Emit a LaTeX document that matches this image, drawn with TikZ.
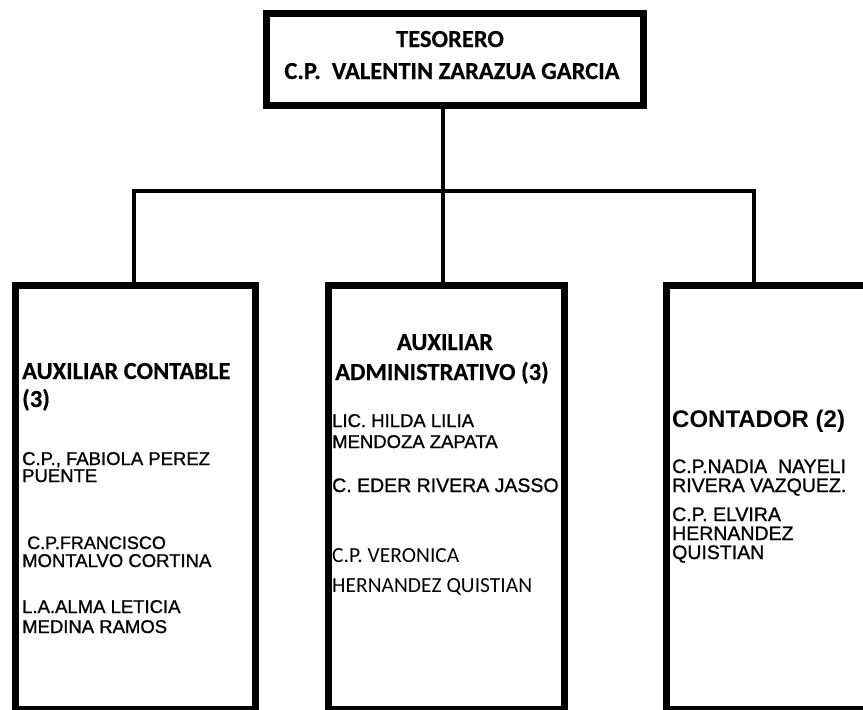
\documentclass[tikz,border=0pt]{standalone}
\usepackage{fontspec}
\setmainfont{Liberation Sans}
\newfontfamily\calib[BoldFeatures={FakeBold=0.4}]{Carlito}
\newfontfamily\arialfb[FakeBold=1]{Liberation Sans}
\begin{document}
\begin{tikzpicture}[x=1pt,y=-1pt,
  box/.style={draw=black,line width=7pt,rectangle,inner sep=0pt,anchor=north west},
  conn/.style={draw=black,line width=4.5pt},
  hdr/.style={inner sep=0pt,font=\calib\bfseries\fontsize{24.5}{28}\selectfont},
  nm/.style={inner sep=0pt,anchor=base west,font=\arialfb\fontsize{18.5}{22}\selectfont},
  nmb/.style={nm,font=\arialfb\fontsize{19.5}{23}\selectfont},
  nmc/.style={inner sep=0pt,anchor=base west,font=\calib\fontsize{21.5}{26}\selectfont},
  cnt/.style={inner sep=0pt,anchor=base west,font=\bfseries\fontsize{24}{28}\selectfont}]
\useasboundingbox (0,0) rectangle (863,710);
\clip (0,0) rectangle (863,710);
\fill[white] (0,0) rectangle (863,710);
% boxes
\node[box,minimum width=377pt,minimum height=92pt] (top) at (263,10) {};
\node[box,minimum width=240pt,minimum height=424pt] (lb) at (12,282) {};
\node[box,minimum width=236pt,minimum height=424pt] (mb) at (325,282) {};
\node[box,minimum width=260pt,minimum height=424pt] (rb) at (663,282) {};
% connectors
\coordinate (j) at (443,191);
\coordinate (bl) at (134,191);
\coordinate (br) at (754,191);
\draw[conn] (top.south -| j) -- (mb.north -| j);
\draw[conn] (lb.north -| bl) -- (bl) -- (br) -- (rb.north -| br);
% top text
\node[hdr,anchor=base] (t1) at (450,47) {TESORERO};
\node[hdr,anchor=base] (t2) at (452,79) {C.P.\ \ VALENTIN ZARAZUA GARCIA};
% left box
\node[hdr,anchor=base west] (l1) at (22,379) {AUXILIAR CONTABLE};
\node[hdr,anchor=base west] (l2) at (22,407) {(3)};
\node[nm] (l3) at (22,465) {C.P., FABIOLA PEREZ};
\node[nm] (l4) at (22,482) {PUENTE};
\node[nm,font=\arialfb\fontsize{18}{22}\selectfont] (l5) at (27,549) {C.P.FRANCISCO};
\node[nm] (l6) at (22,567) {MONTALVO CORTINA};
\node[nm] (l7) at (22,613) {L.A.ALMA LETICIA};
\node[nm] (l8) at (22,633) {MEDINA RAMOS};
% middle box
\node[hdr,anchor=base] (m1) at (445,350) {AUXILIAR};
\node[hdr,anchor=base west] (m2) at (335,380) {ADMINISTRATIVO (3)};
\node[nm] (m3) at (332,427) {LIC. HILDA LILIA};
\node[nm] (m4) at (332,448) {MENDOZA ZAPATA};
\node[nm,font=\arialfb\fontsize{19.5}{24}\selectfont] (m5) at (332,492) {C. EDER RIVERA JASSO};
\node[nmc] (m6) at (332,562) {C.P. VERONICA};
\node[nmc] (m7) at (332,592) {HERNANDEZ QUISTIAN};
% right box
\node[cnt] (r1) at (672,427) {CONTADOR (2)};
\node[nmb] (r2) at (672,473) {C.P.NADIA\ \ NAYELI};
\node[nmb] (r3) at (672,492) {RIVERA VAZQUEZ.};
\node[nmb] (r4) at (672,521) {C.P. ELVIRA};
\node[nmb] (r5) at (672,540) {HERNANDEZ};
\node[nmb] (r6) at (672,559) {QUISTIAN};
\end{tikzpicture}
\end{document}
